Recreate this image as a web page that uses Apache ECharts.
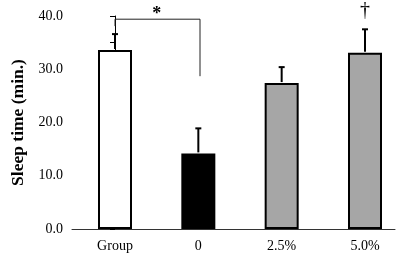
<!DOCTYPE html>
<html>
<head>
<meta charset="utf-8">
<script src="https://cdn.jsdelivr.net/npm/echarts@6/dist/echarts.min.js"></script>
<style>
  html, body { margin: 0; padding: 0; background: #fff; }
  #chart { width: 398px; height: 255px; }
</style>
</head>
<body>
<div id="chart"></div>
<script>
// --- DATA ---
const categories = ['Group', '0', '2.5%', '5.0%'];
const means = [33.6, 14.2, 27.4, 33.1];
const errorTops = [36.6, 18.9, 30.4, 37.5];
const barColors = ['#ffffff', '#000000', '#a6a6a6', '#a6a6a6'];
const yTicks = { min: 0, max: 40, interval: 10 };

// significance bracket between Group and 0
const bracketFrom = 0, bracketTo = 1.02;
const bracketTop = 39.4, bracketLeftEnd = 38.1, bracketRightEnd = 28.7;
const marks = [
  { x: 0.5, y: 40.3, text: '*', bold: true, size: 18 },
  { x: 3, y: 40.9, text: '†', bold: false, size: 20 }
];

const FONT = '"Liberation Serif", "Times New Roman", serif';
const chart = echarts.init(document.getElementById('chart'));

chart.setOption({
  animation: false,
  grid: { left: 72, right: 3, top: 16, bottom: 26 },
  xAxis: {
    type: 'value',
    min: -0.516,
    max: 3.36,
    splitLine: { show: false },
    axisTick: { show: false },
    axisLine: { show: true, lineStyle: { color: '#333', width: 1 } },
    axisLabel: {
      customValues: [0, 1, 2, 3],
      formatter: v => categories[Math.round(v)],
      fontFamily: FONT, fontSize: 14, color: '#000', margin: 10
    }
  },
  yAxis: {
    type: 'value',
    min: yTicks.min, max: yTicks.max, interval: yTicks.interval,
    name: 'Sleep time (min.)',
    nameLocation: 'middle',
    nameGap: 44,
    nameTextStyle: { fontFamily: FONT, fontSize: 17.5, fontWeight: 'bold', color: '#000' },
    splitLine: { show: false },
    axisLine: { show: true, lineStyle: { color: '#000', width: 1 } },
    axisTick: { show: true, length: 5, lineStyle: { color: '#000' } },
    minorTick: { show: true, splitNumber: 2, length: 5, lineStyle: { color: '#000' } },
    axisLabel: {
      formatter: v => v.toFixed(1),
      fontFamily: FONT, fontSize: 14, color: '#000', margin: 9
    }
  },
  series: [
    {
      type: 'bar',
      barWidth: 34,
      data: means.map((m, i) => ({
        value: [i, m],
        itemStyle: { color: barColors[i], borderColor: '#000', borderWidth: 2 }
      })),
      z: 2
    },
    {
      type: 'custom',
      data: means.map((m, i) => [i, m, errorTops[i]]),
      renderItem: (params, api) => {
        const base = api.coord([api.value(0), api.value(1)]);
        const top = api.coord([api.value(0), api.value(2)]);
        const style = { stroke: '#000', lineWidth: 2 };
        return {
          type: 'group',
          children: [
            { type: 'line', shape: { x1: base[0], y1: base[1] - 1, x2: top[0], y2: top[1] }, style },
            { type: 'line', shape: { x1: top[0] - 3, y1: top[1], x2: top[0] + 3, y2: top[1] }, style }
          ]
        };
      },
      z: 1
    },
    {
      type: 'custom',
      clip: false,
      data: [[bracketFrom, bracketTo, bracketTop, bracketLeftEnd, bracketRightEnd]],
      renderItem: (params, api) => {
        const a = api.coord([api.value(0), api.value(3)]);
        const b = api.coord([api.value(0), api.value(2)]);
        const c = api.coord([api.value(1), api.value(2)]);
        const d = api.coord([api.value(1), api.value(4)]);
        return {
          type: 'polyline',
          shape: { points: [a, b, c, d] },
          style: { stroke: '#222', lineWidth: 1, fill: null }
        };
      }
    },
    {
      type: 'custom',
      clip: false,
      data: marks.map(m => [m.x, m.y]),
      renderItem: (params, api) => {
        const p = api.coord([api.value(0), api.value(1)]);
        const m = marks[params.dataIndex];
        return {
          type: 'text',
          x: p[0], y: p[1],
          style: {
            text: m.text,
            fontFamily: FONT, fontSize: m.size, fontWeight: m.bold ? 'bold' : 'normal',
            fill: '#000', align: 'center', verticalAlign: 'middle'
          }
        };
      }
    }
  ]
});
</script>
</body>
</html>
